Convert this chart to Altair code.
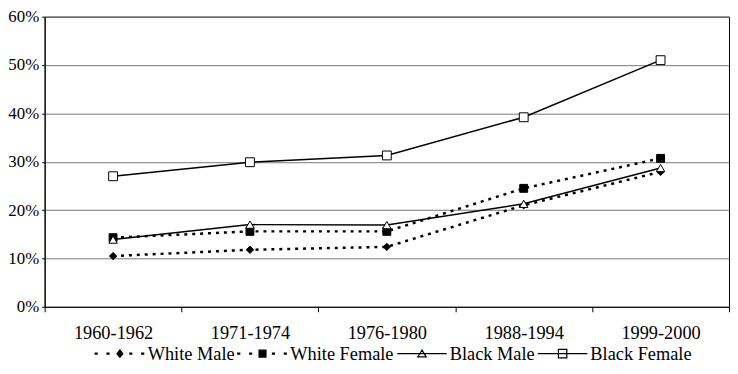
import altair as alt
import pandas as pd

# ---- data ----
periods = ["1960-1962", "1971-1974", "1976-1980", "1988-1994", "1999-2000"]
series = ["White Male", "White Female", "Black Male", "Black Female"]
white_male = [10.5, 11.8, 12.4, 21.0, 27.9]
white_female = [14.3, 15.6, 15.6, 24.5, 30.7]
black_male = [13.9, 17.0, 16.9, 21.3, 28.7]
black_female = [27.0, 29.9, 31.3, 39.2, 51.0]
y_ticks = [0, 10, 20, 30, 40, 50, 60]

values = {
    "White Male": white_male,
    "White Female": white_female,
    "Black Male": black_male,
    "Black Female": black_female,
}
rows = []
for s in series:
    for p, v in zip(periods, values[s]):
        rows.append({"series": s, "period": p, "pct": v})
df = pd.DataFrame(rows)

FONT = "Liberation Serif"

# legend symbols: line (dashed or solid) with the series marker in the middle
dashes = ("M-1,-0.02H-0.92V0.02H-1ZM-0.52,-0.02H-0.44V0.02H-0.52Z"
          "M0.4,-0.02H0.48V0.02H0.4ZM0.88,-0.02H0.96V0.02H0.88Z")
legend_paths = [
    dashes + "M-0.12,0L0,-0.15L0.12,0L0,0.15Z",
    dashes + "M-0.14,-0.14H0.14V0.14H-0.14Z",
    "M-1,0H1M0,-0.14L0.17,0.13H-0.17Z",
    "M-1,0H1M-0.17,-0.17H0.17V0.17H-0.17Z",
]
fills = ["black", "black", "white", "white"]
strokes = ["black", "black", "black", "black"]

x_enc = alt.X(
    "period:N",
    sort=periods,
    scale=alt.Scale(type="band", paddingInner=0, paddingOuter=0),
    bandPosition=0.5,
    axis=alt.Axis(
        title=None, tickBand="extent", labelFont=FONT, labelFontSize=18.5,
        labelColor="black", tickColor="black", domainColor="black",
        tickSize=5, labelPadding=12, labelAngle=0, grid=False,
    ),
)
y_enc = alt.Y(
    "pct:Q",
    scale=alt.Scale(domain=[0, 60], nice=False),
    axis=alt.Axis(
        title=None, values=y_ticks, labelExpr="datum.value + '%'",
        labelFont=FONT, labelFontSize=17, labelColor="black",
        tickSize=3, labelPadding=3, tickColor="black", domainColor="black",
        gridColor="#777777", gridWidth=1,
    ),
)

base = alt.Chart(df)

white_lines = base.transform_filter(
    alt.FieldOneOfPredicate(field="series", oneOf=["White Male", "White Female"])
).mark_line(color="black", strokeWidth=2.5, strokeDash=[3, 5]).encode(
    x=x_enc, y=y_enc, detail="series:N"
)
black_lines = base.transform_filter(
    alt.FieldOneOfPredicate(field="series", oneOf=["Black Male", "Black Female"])
).mark_line(color="black", strokeWidth=1.5).encode(
    x=x_enc, y=y_enc, detail="series:N"
)

points = base.mark_point(opacity=1, stroke="black", strokeWidth=1).encode(
    x=x_enc,
    y=y_enc,
    shape=alt.Shape("series:N", scale=alt.Scale(domain=series,
                    range=["diamond", "square", "triangle-up", "square"]), legend=None),
    fill=alt.Fill("series:N", scale=alt.Scale(domain=series, range=fills), legend=None),
    size=alt.Size("series:N", scale=alt.Scale(domain=series, range=[55, 80, 100, 100]), legend=None),
)

leg = alt.Legend(
    title=None, orient="none", legendX=50, legendY=314, direction="horizontal",
    columns=4, symbolSize=2500, symbolStrokeWidth=1.2, symbolStrokeColor="black",
    labelFont=FONT, labelFontSize=18.5, labelColor="black", labelOffset=2,
    columnPadding=0, padding=0, rowPadding=0, labelLimit=0,
)
legend_layer = base.transform_filter("false").mark_point(
    opacity=1, strokeWidth=1.2
).encode(
    shape=alt.Shape("series:N", scale=alt.Scale(domain=series, range=legend_paths), legend=leg),
    fill=alt.Fill("series:N", scale=alt.Scale(domain=series, range=fills), legend=leg),
    stroke=alt.Stroke("series:N", scale=alt.Scale(domain=series, range=strokes), legend=leg),
)

chart = alt.layer(white_lines, black_lines, points, legend_layer).resolve_scale(
    shape="independent", fill="independent", size="independent", stroke="independent"
).properties(
    width=691, height=293,
    autosize=alt.AutoSizeParams(type="none"),
    padding={"left": 37, "top": 7, "right": 1, "bottom": 57},
    background="white",
).configure_view(stroke="black", strokeWidth=1)

chart.save("out.html", embed_options={"renderer": "svg", "actions": False})
